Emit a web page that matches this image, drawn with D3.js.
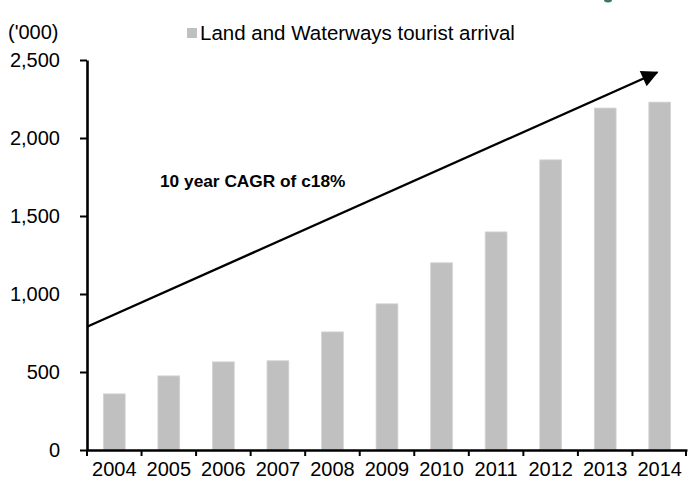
<!DOCTYPE html>
<html>
<head>
<meta charset="utf-8">
<script src="https://cdn.jsdelivr.net/npm/d3@7"></script>
<style>
  html, body { margin: 0; padding: 0; background: #fff; }
  svg { display: block; font-family: Arial, "Liberation Sans", sans-serif; }
</style>
</head>
<body>
<svg id="chart" width="689" height="485"></svg>
<script>
// Land and waterways tourist arrivals, thousands
const years = ["2004", "2005", "2006", "2007", "2008", "2009", "2010", "2011", "2012", "2013", "2014"];
const arrivals = [360, 475, 565, 572, 757, 937, 1200, 1398, 1860, 2192, 2230];
const yTicks = [0, 500, 1000, 1500, 2000, 2500];
const seriesName = "Land and Waterways tourist arrival";
const unitLabel = "('000)";
const cagrLabel = "10 year CAGR of c18%";
// trend arrow endpoints, in data space: [year position, value]
const arrowFrom = [0, 790];
const arrowTo = [10.45, 2420];

const svg = d3.select("#chart");
const margin = { left: 87, right: 2, top: 60, bottom: 35 };
const W = 689, H = 485;

const x = d3.scaleBand().domain(years).range([margin.left, W - margin.right]).paddingInner(0.6).paddingOuter(0.3);
const xTickScale = d3.scaleBand().domain(years).range([margin.left, W - margin.right]);
const y = d3.scaleLinear().domain([0, 2500]).range([H - margin.bottom, margin.top]);

// bars
svg.append("g").selectAll("rect")
  .data(years.map((yr, i) => ({ yr, v: arrivals[i] })))
  .join("rect")
  .attr("x", d => x(d.yr))
  .attr("width", x.bandwidth())
  .attr("y", d => y(d.v))
  .attr("height", d => y(0) - y(d.v))
  .attr("fill", "#c0c0c0")
  .attr("stroke", "#d4d4d4")
  .attr("stroke-width", 0.8);

// y axis
const yAxis = svg.append("g")
  .attr("transform", `translate(${margin.left},0)`)
  .call(d3.axisLeft(y).tickValues(yTicks).tickFormat(d3.format(",")).tickSize(7).tickSizeOuter(0).tickPadding(20));
yAxis.select(".domain").attr("stroke", "#000").attr("stroke-width", 2.6);
yAxis.selectAll(".tick line").attr("stroke", "#000").attr("stroke-width", 2);
yAxis.selectAll(".tick text").attr("font-size", 20).attr("fill", "#000").attr("font-family", "Arial, 'Liberation Sans', sans-serif");

// x axis: ticks sit at band boundaries
const xAxis = svg.append("g")
  .attr("transform", `translate(0,${y(0)})`)
  .call(d3.axisBottom(xTickScale).tickSize(0).tickSizeOuter(0).tickPadding(12));
xAxis.select(".domain").attr("stroke", "#000").attr("stroke-width", 2.6);
xAxis.selectAll(".tick text").attr("font-size", 20).attr("fill", "#000").attr("font-family", "Arial, 'Liberation Sans', sans-serif");
const bounds = years.map(yr => xTickScale(yr)).concat([xTickScale(years[years.length - 1]) + xTickScale.bandwidth() - 1]);
svg.append("g").selectAll("line")
  .data(bounds)
  .join("line")
  .attr("x1", d => d).attr("x2", d => d)
  .attr("y1", y(0)).attr("y2", y(0) + 6)
  .attr("stroke", "#000").attr("stroke-width", 2);

// trend arrow
const posX = p => xTickScale(years[0]) + xTickScale.bandwidth() * p;
svg.append("defs").append("marker")
  .attr("id", "head")
  .attr("viewBox", "0 0 10 10")
  .attr("refX", 9).attr("refY", 5)
  .attr("markerWidth", 8).attr("markerHeight", 7)
  .attr("markerUnits", "strokeWidth")
  .attr("orient", "auto")
  .append("path").attr("d", "M0,0 L10,5 L0,10 Z").attr("fill", "#000");
svg.append("line")
  .attr("x1", margin.left).attr("y1", y(arrowFrom[1]))
  .attr("x2", posX(arrowTo[0])).attr("y2", y(arrowTo[1]))
  .attr("stroke", "#000").attr("stroke-width", 2.4)
  .attr("marker-end", "url(#head)");

// annotation
svg.append("text")
  .attr("x", 160).attr("y", 187)
  .attr("font-size", 17.3).attr("font-weight", "bold").attr("fill", "#000")
  .text(cagrLabel);

// unit label
svg.append("text")
  .attr("x", 8).attr("y", 39)
  .attr("font-size", 20).attr("fill", "#000")
  .text(unitLabel);

// legend
svg.append("rect").attr("x", 187).attr("y", 28).attr("width", 10).attr("height", 10).attr("fill", "#c0c0c0");
svg.append("text")
  .attr("x", 200).attr("y", 40)
  .attr("font-size", 20.5).attr("fill", "#000")
  .text(seriesName);

// corner emblem fragment
svg.append("ellipse").attr("cx", 608).attr("cy", 0).attr("rx", 4).attr("ry", 2.5).attr("fill", "#3a7a5a");
</script>
</body>
</html>
